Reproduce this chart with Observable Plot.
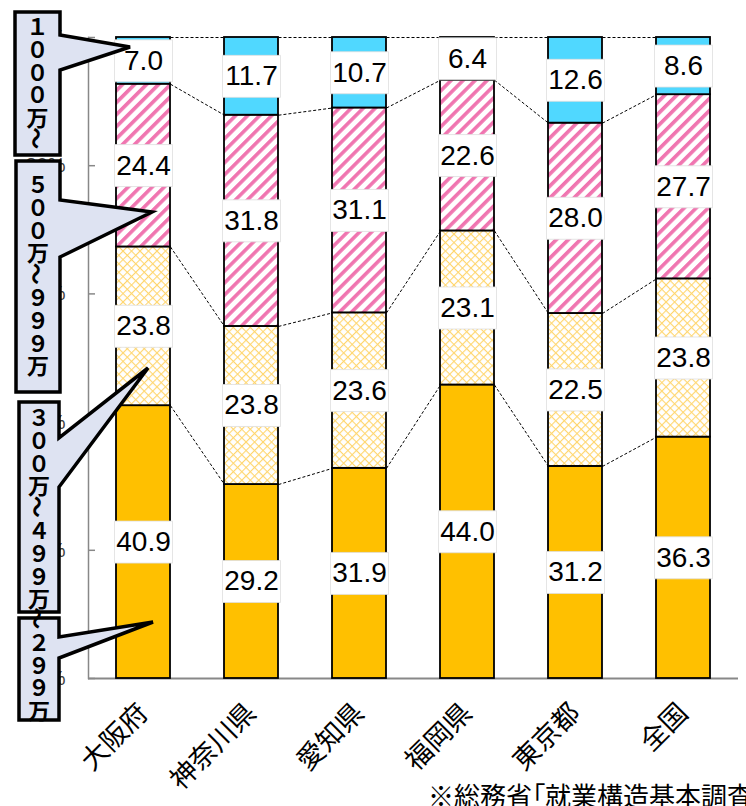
<!DOCTYPE html>
<html><head><meta charset="utf-8">
<script src="https://cdn.jsdelivr.net/npm/d3@7"></script>
<script src="https://cdn.jsdelivr.net/npm/@observablehq/plot@0.6"></script>
<style>
html,body{margin:0;padding:0;background:#fff;}
body{width:746px;height:806px;overflow:hidden;position:relative;}
#caption{position:absolute;left:428px;top:782px;font-family:"Noto Sans CJK JP",sans-serif;font-size:26px;line-height:1;white-space:nowrap;color:#000;font-feature-settings:"palt";}
</style></head><body>
<div id="chart"></div>
<div id="caption">※総務省「就業構造基本調査」</div>
<script>
const prefectures = ["大阪府","神奈川県","愛知県","福岡県","東京都","全国"];
const seriesNames = ["～299万","300万～499万","500万～999万","1000万～"];
const under300 = [40.9, 29.2, 31.9, 44.0, 31.2, 36.3];
const from300to499 = [23.8, 23.8, 23.6, 23.1, 22.5, 23.8];
const from500to999 = [24.4, 31.8, 31.1, 22.6, 28.0, 27.7];
const over1000 = [7.0, 11.7, 10.7, 6.4, 12.6, 8.6];
const yTicks = [0, 0.2, 0.4, 0.6, 0.8, 1];
const calloutTexts = ["１０００万～","５００万～９９９万","３００万～４９９万","～２９９万"];

const seriesValues = [under300, from300to499, from500to999, over1000];
const data = prefectures.flatMap((p, i) => seriesNames.map((s, k) => ({pref: p, series: s, value: seriesValues[k][i]})));

// dashed connectors between adjacent bars at each stack boundary
const totals = prefectures.map((p, i) => d3.sum(seriesValues, v => v[i]));
const links = [];
for (let k = 0; k < seriesValues.length; k++) {
  const cum = prefectures.map((p, i) => d3.sum(seriesValues.slice(0, k + 1), v => v[i]) / totals[i]);
  for (let i = 0; i < prefectures.length - 1; i++) {
    links.push({a: prefectures[i], b: prefectures[i + 1], ya: cum[i], yb: cum[i + 1]});
  }
}

const labelBox = {draw(ctx) { ctx.moveTo(-29, -21); ctx.lineTo(29, -21); ctx.lineTo(29, 21); ctx.lineTo(-29, 21); ctx.closePath(); }};
const stackOpts = {x: "pref", y: "value", z: "series", order: seriesNames, offset: "normalize"};

const chart = Plot.plot({
  width: 746, height: 806,
  marginLeft: 88, marginRight: 8, marginTop: 37, marginBottom: 128,
  style: {fontFamily: "'Liberation Sans', Arial, sans-serif", background: "transparent", overflow: "visible"},
  x: {type: "band", domain: prefectures, paddingInner: 0.5, paddingOuter: 0.25, label: null},
  y: {domain: [0, 1], label: null},
  color: {type: "ordinal", domain: seriesNames, range: ["#FFC000", "url(#crossHatch)", "url(#pinkStripe)", "#50D8FF"]},
  marks: [
    Plot.axisY({ticks: yTicks, tickSize: 0, tickPadding: 23, tickFormat: d3.format(".0%"), fontSize: 20, fill: "#404040", label: null}),
    Plot.axisY({ticks: yTicks, tickSize: 7, dx: 7, fill: "none", stroke: "#888", strokeWidth: 1.5, label: null}),
    Plot.frame({anchor: "left", stroke: "#888", strokeWidth: 1.5}),
    Plot.ruleY([0], {stroke: "#888", strokeWidth: 2}),
    Plot.link(links, {
      x1: "a", x2: "b", y1: "ya", y2: "yb",
      stroke: "#000", strokeWidth: 1, strokeDasharray: "3,2",
      render(index, scales, values, dimensions, context, next) {
        const bw = scales.x.bandwidth();
        const X1 = Array.from(values.x1, v => v + bw / 2);
        const X2 = Array.from(values.x2, v => v - bw / 2);
        return next(index, scales, {...values, x1: X1, x2: X2}, dimensions, context);
      }
    }),
    Plot.barY(data, {x: "pref", y: "value", fill: "series", order: seriesNames, offset: "normalize", stroke: "#000", strokeWidth: 1.8}),
    Plot.dot(data, Plot.stackY({...stackOpts, symbol: labelBox, r: 20, fill: "#fff", stroke: "#dedede", strokeWidth: 0.8})),
    Plot.text(data, Plot.stackY({...stackOpts, text: d => d.value.toFixed(1), fontSize: 28, fill: "#000"})),
    Plot.axisX({tickSize: 0, tickPadding: 30, tickRotate: -45, fontSize: 27, fontFamily: "'Noto Sans CJK JP', sans-serif", fill: "#000", label: null})
  ]
});

const svg = d3.select(chart);
const defs = svg.insert("defs", ":first-child");
const stripe = defs.append("pattern").attr("id", "pinkStripe").attr("patternUnits", "userSpaceOnUse")
  .attr("width", 8.5).attr("height", 8.5).attr("patternTransform", "rotate(45)");
stripe.append("rect").attr("width", 8.5).attr("height", 8.5).attr("fill", "#fff");
stripe.append("rect").attr("width", 3.6).attr("height", 8.5).attr("fill", "#F075B0");
const cross = defs.append("pattern").attr("id", "crossHatch").attr("patternUnits", "userSpaceOnUse")
  .attr("width", 6).attr("height", 6).attr("patternTransform", "rotate(45)");
cross.append("rect").attr("width", 6).attr("height", 6).attr("fill", "#fff");
cross.append("rect").attr("width", 6).attr("height", 1.1).attr("fill", "#FFD66E");
cross.append("rect").attr("width", 1.1).attr("height", 6).attr("fill", "#FFD66E");

// legend callouts (annotation boxes with pointers)
const callouts = [
  {box: [15, 12, 60, 155], wedge: [35, 70], tip: [130, 47], start: 14},
  {box: [16, 161, 60, 392], wedge: [200, 257], tip: [152, 212], start: 172},
  {box: [19, 402, 59, 612], wedge: [438, 487], tip: [148, 368], start: 405},
  {box: [19, 618, 59, 720], wedge: [637, 658], tip: [153, 622], start: 607}
];
const pitch = 22.6;
const g = svg.append("g");
callouts.forEach((c, idx) => {
  const [x0, y0, x1, y1] = c.box;
  g.append("path")
    .attr("d", `M${x0},${y0}H${x1}V${c.wedge[0]}L${c.tip[0]},${c.tip[1]}L${x1},${c.wedge[1]}V${y1}H${x0}Z`)
    .attr("fill", "#DEE3F2").attr("stroke", "#000").attr("stroke-width", 3.5).attr("stroke-linejoin", "miter");
  const cx = (x0 + x1) / 2;
  Array.from(calloutTexts[idx]).forEach((ch, j) => {
    const cy = c.start + pitch * j + pitch / 2;
    const t = g.append("text").attr("x", cx).attr("y", cy)
      .attr("text-anchor", "middle").attr("dominant-baseline", "central")
      .attr("font-family", "'Noto Sans CJK JP', sans-serif").attr("font-weight", 700)
      .attr("font-size", 22).attr("fill", "#000").text(ch);
    if (ch === "～") t.attr("transform", `rotate(90,${cx},${cy})`);
  });
});

document.getElementById("chart").appendChild(chart);
</script>
</body></html>
